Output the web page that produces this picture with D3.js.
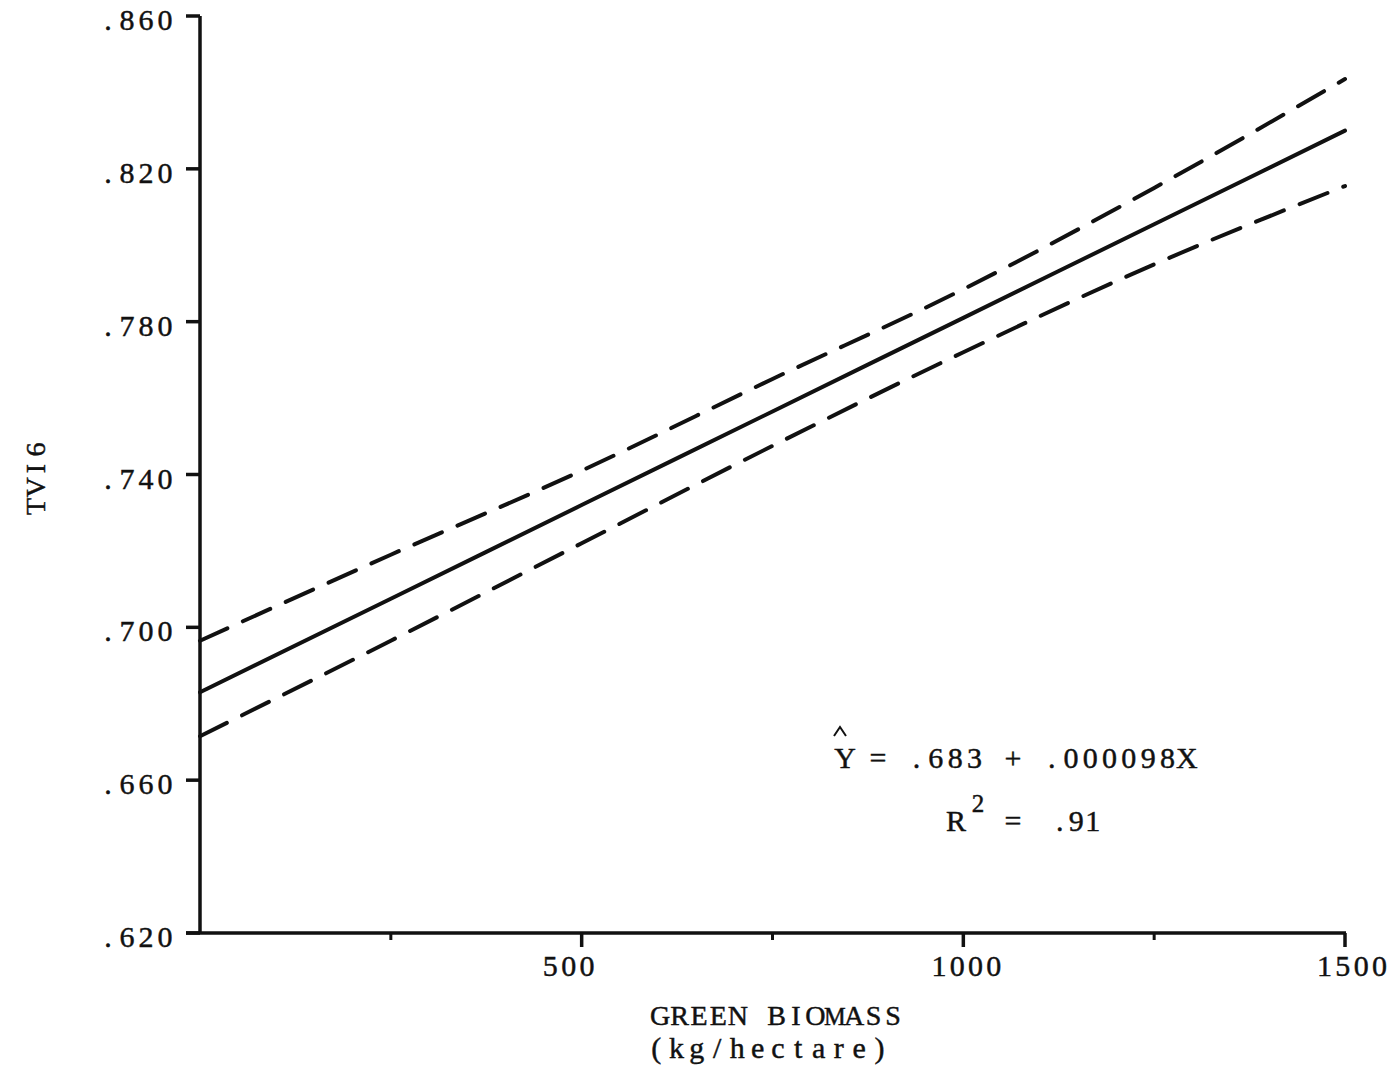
<!DOCTYPE html>
<html><head><meta charset="utf-8">
<script src="https://cdn.jsdelivr.net/npm/d3@7"></script>
<style>
html,body{margin:0;padding:0;background:#fff;}
text{font-family:"Liberation Serif","DejaVu Serif",serif;fill:#111;stroke:#111;stroke-width:0.45px;}
</style></head>
<body>
<svg id="c" width="1395" height="1066"></svg>
<script>
const biomass = [0, 250, 500, 750, 1000, 1250, 1500];
const fitted = [0.683, 0.7075, 0.732, 0.7565, 0.781, 0.8055, 0.830];
const upperBand = [0.6965, 0.719, 0.741, 0.765, 0.7885, 0.815, 0.8435];
const lowerBand = [0.6715, 0.6965, 0.722, 0.7475, 0.772, 0.795, 0.8155];
const yTicks = [0.62, 0.66, 0.70, 0.74, 0.78, 0.82, 0.86];
const yTickLabels = [".620", ".660", ".700", ".740", ".780", ".820", ".860"];
const xMajorTicks = [500, 1000, 1500];
const xMinorTicks = [250, 750, 1250];
const xTickLabels = ["500", "1000", "1500"];
const xLabelNudge = [-13, 3, 7];
const eqLine1 = "= .683 + .000098X";
const eqLine2 = ".91";

const svg = d3.select("#c");
const x = d3.scaleLinear().domain([0, 1500]).range([200, 1345]);
const y = d3.scaleLinear().domain([0.62, 0.86]).range([933, 16]);

// typewriter-style fixed-pitch placement of serif glyphs (very wide glyphs shrunk a little)
const ctx = document.createElement("canvas").getContext("2d");
function mono(parent, str, xLeft, yBase, pitch, size) {
  const t = parent.append("text").attr("y", yBase).attr("font-size", size).attr("xml:space", "preserve");
  Array.from(str).forEach((ch, i) => {
    ctx.font = size + 'px "Liberation Serif"';
    let w = ctx.measureText(ch).width, fs = size;
    if (w > pitch * 1.12) { fs = size * pitch * 1.12 / w; w = pitch * 1.12; }
    t.append("tspan").attr("x", (xLeft + i * pitch + (pitch - w) / 2).toFixed(2))
      .attr("font-size", fs.toFixed(2)).text(ch);
  });
  return t;
}

// axes lines
svg.append("line").attr("x1", x(0)).attr("x2", x(0)).attr("y1", y(0.86)).attr("y2", y(0.62))
  .attr("stroke", "#111").attr("stroke-width", 3.5);
svg.append("line").attr("x1", x(0) - 14).attr("x2", x(1500) + 1).attr("y1", y(0.62)).attr("y2", y(0.62))
  .attr("stroke", "#111").attr("stroke-width", 3.5);

// y ticks
svg.selectAll(".yt").data(yTicks).enter().append("line")
  .attr("x1", x(0) - 14).attr("x2", x(0)).attr("y1", d => y(d)).attr("y2", d => y(d))
  .attr("stroke", "#111").attr("stroke-width", 3.5);
yTicks.forEach((d, i) => mono(svg, yTickLabels[i], 98.5, y(d) + 14, 19, 30));

// x ticks
svg.selectAll(".xt").data(xMajorTicks).enter().append("line")
  .attr("x1", d => x(d)).attr("x2", d => x(d)).attr("y1", y(0.62)).attr("y2", y(0.62) + 14)
  .attr("stroke", "#111").attr("stroke-width", 3.5);
svg.selectAll(".xm").data(xMinorTicks).enter().append("line")
  .attr("x1", d => x(d)).attr("x2", d => x(d)).attr("y1", y(0.62)).attr("y2", y(0.62) + 7)
  .attr("stroke", "#111").attr("stroke-width", 3);
xMajorTicks.forEach((d, i) => {
  const s = xTickLabels[i], p = 18.3;
  mono(svg, s, x(d) + xLabelNudge[i] - s.length * p / 2, 976, p, 30);
});

// axis titles
const gy = svg.append("g").attr("transform", "translate(45,0) rotate(-90)");
mono(gy, "TVI6", -516, 0, 19, 28);
mono(svg, "GREEN BIOMASS", 650.5, 1025, 19.4, 28);
mono(svg, "(kg/hectare)", 646, 1058, 20.3, 30);

// lines
const pts = a => biomass.map((b, i) => [x(b), y(a[i])]);
const line = d3.line().curve(d3.curveMonotoneX);
svg.append("path").attr("d", line(pts(fitted))).attr("fill", "none")
  .attr("stroke", "#111").attr("stroke-width", 4).attr("stroke-linecap", "round");
[upperBand, lowerBand].forEach(a => {
  svg.append("path").attr("d", line(pts(a))).attr("fill", "none")
    .attr("stroke", "#111").attr("stroke-width", 4).attr("stroke-linecap", "round")
    .attr("stroke-dasharray", "30 17");
});

// equation
mono(svg, "Y", 835.5, 768, 19.3, 30);
svg.append("path").attr("d", "M834,736 L840,727 L846,736").attr("fill", "none")
  .attr("stroke", "#111").attr("stroke-width", 2);
mono(svg, eqLine1, 868.3, 768, 19.3, 30);
mono(svg, "R", 946.5, 831, 19, 30);
mono(svg, "2", 969, 812, 18, 25);
mono(svg, "=", 1003.5, 831, 19, 30);
mono(svg, eqLine2, 1051.5, 831, 16.5, 30);
</script>
</body></html>
